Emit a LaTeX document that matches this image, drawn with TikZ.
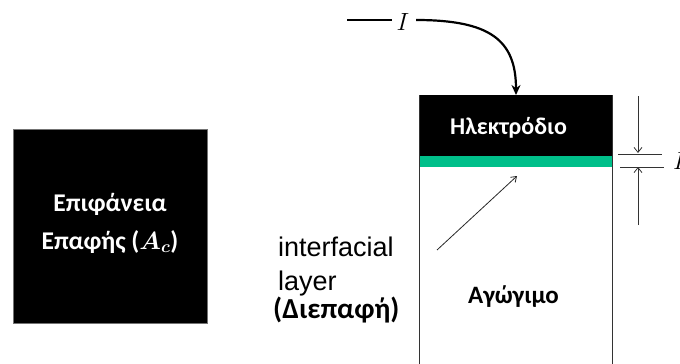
\documentclass[tikz,border=0pt]{standalone}
\usepackage{fontspec}
\setmainfont{Liberation Sans}
\newfontfamily\calfont{Carlito}
\usetikzlibrary{arrows.meta}
\definecolor{layergreen}{RGB}{0,191,138}
\begin{document}
\begin{tikzpicture}[x=1pt,y=-1pt,
  whitelbl/.style={text=white,font=\calfont\bfseries\fontsize{25.5}{30}\selectfont,align=center,inner sep=0pt},
  sidelbl/.style={anchor=base west,inner sep=0pt,font=\fontsize{27}{33}\selectfont},
  dimline/.style={line width=0.8pt,draw=black!80},
  dimarrow/.style={line width=0.8pt,draw=black!80,-{Straight Barb[length=5pt,width=8pt]}}]
\useasboundingbox (0,0) rectangle (680,364);
% left square
\node[draw=black!55,fill=black,line width=0.8pt,minimum width=194pt,minimum height=194pt,inner sep=0pt] (sq) at (110,226) {};
\node[whitelbl] (sqt) at (110,223) {Επιφάνεια\\[8pt]Επαφής ({\boldmath$A_c$})};
% right structure
\coordinate (bl) at (419,364);
\coordinate (br) at (612,364);
\node[fill=black,minimum width=193pt,minimum height=61pt,inner sep=0pt] (elec) at (515.5,125.5) {};
\node[fill=layergreen,minimum width=193pt,minimum height=11pt,inner sep=0pt] (green) at (515.5,161.5) {};
\coordinate (tl) at (419,95);
\coordinate (tr) at (612,95);
\draw[black!80,line width=1pt] (tl) -- (bl);
\draw[black!80,line width=1pt] (tr) -- (br);
\node[whitelbl,font=\calfont\bfseries\fontsize{24}{28}\selectfont] (et) at (508.5,128) {Ηλεκτρόδιο};
\node[font=\calfont\bfseries\fontsize{25}{28}\selectfont,inner sep=0pt] (ag) at (513.5,297) {Αγώγιμο};
% current
\coordinate (i0) at (347,20);
\node[font=\fontsize{26}{28}\selectfont,inner sep=0pt] (I) at (403,22) {$I$};
\coordinate (i1) at (392,20);
\coordinate (i2) at (416,20);
\coordinate (itip) at (516,95);
\draw[line width=2.2pt] (i0) -- (i1);
\draw[line width=2.2pt,-{Stealth[length=10pt,width=9pt]}] (i2) .. controls (490,20) and (516,40) .. (itip);
% interfacial layer label
\node[sidelbl] (ifl1) at (278,256) {interfacial};
\node[sidelbl] (ifl2) at (278,290) {layer};
\node[sidelbl,font=\calfont\bfseries\fontsize{29}{32}\selectfont] (dia) at (273,318) {(Διεπαφή)};
\coordinate (a0) at (437,250);
\coordinate (a1) at (517,176);
\draw[line width=0.8pt,black!85,-{Straight Barb[length=5pt,width=7pt]}] (a0) -- (a1);
% dimension
\coordinate (d1) at (638,96);
\coordinate (d1t) at (638,153);
\coordinate (d2) at (638,225);
\coordinate (d2t) at (638,167);
\coordinate (h1a) at (618,154);
\coordinate (h1b) at (662,154);
\coordinate (h2a) at (620,167);
\coordinate (h2b) at (664,167);
\draw[dimarrow] (d1) -- (d1t);
\draw[dimarrow] (d2) -- (d2t);
\draw[dimline] (h1a) -- (h1b);
\draw[dimline] (h2a) -- (h2b);
\node[font=\fontsize{24}{26}\selectfont,anchor=west,inner sep=0pt] (L) at (673,161) {$L$};
\end{tikzpicture}
\end{document}
